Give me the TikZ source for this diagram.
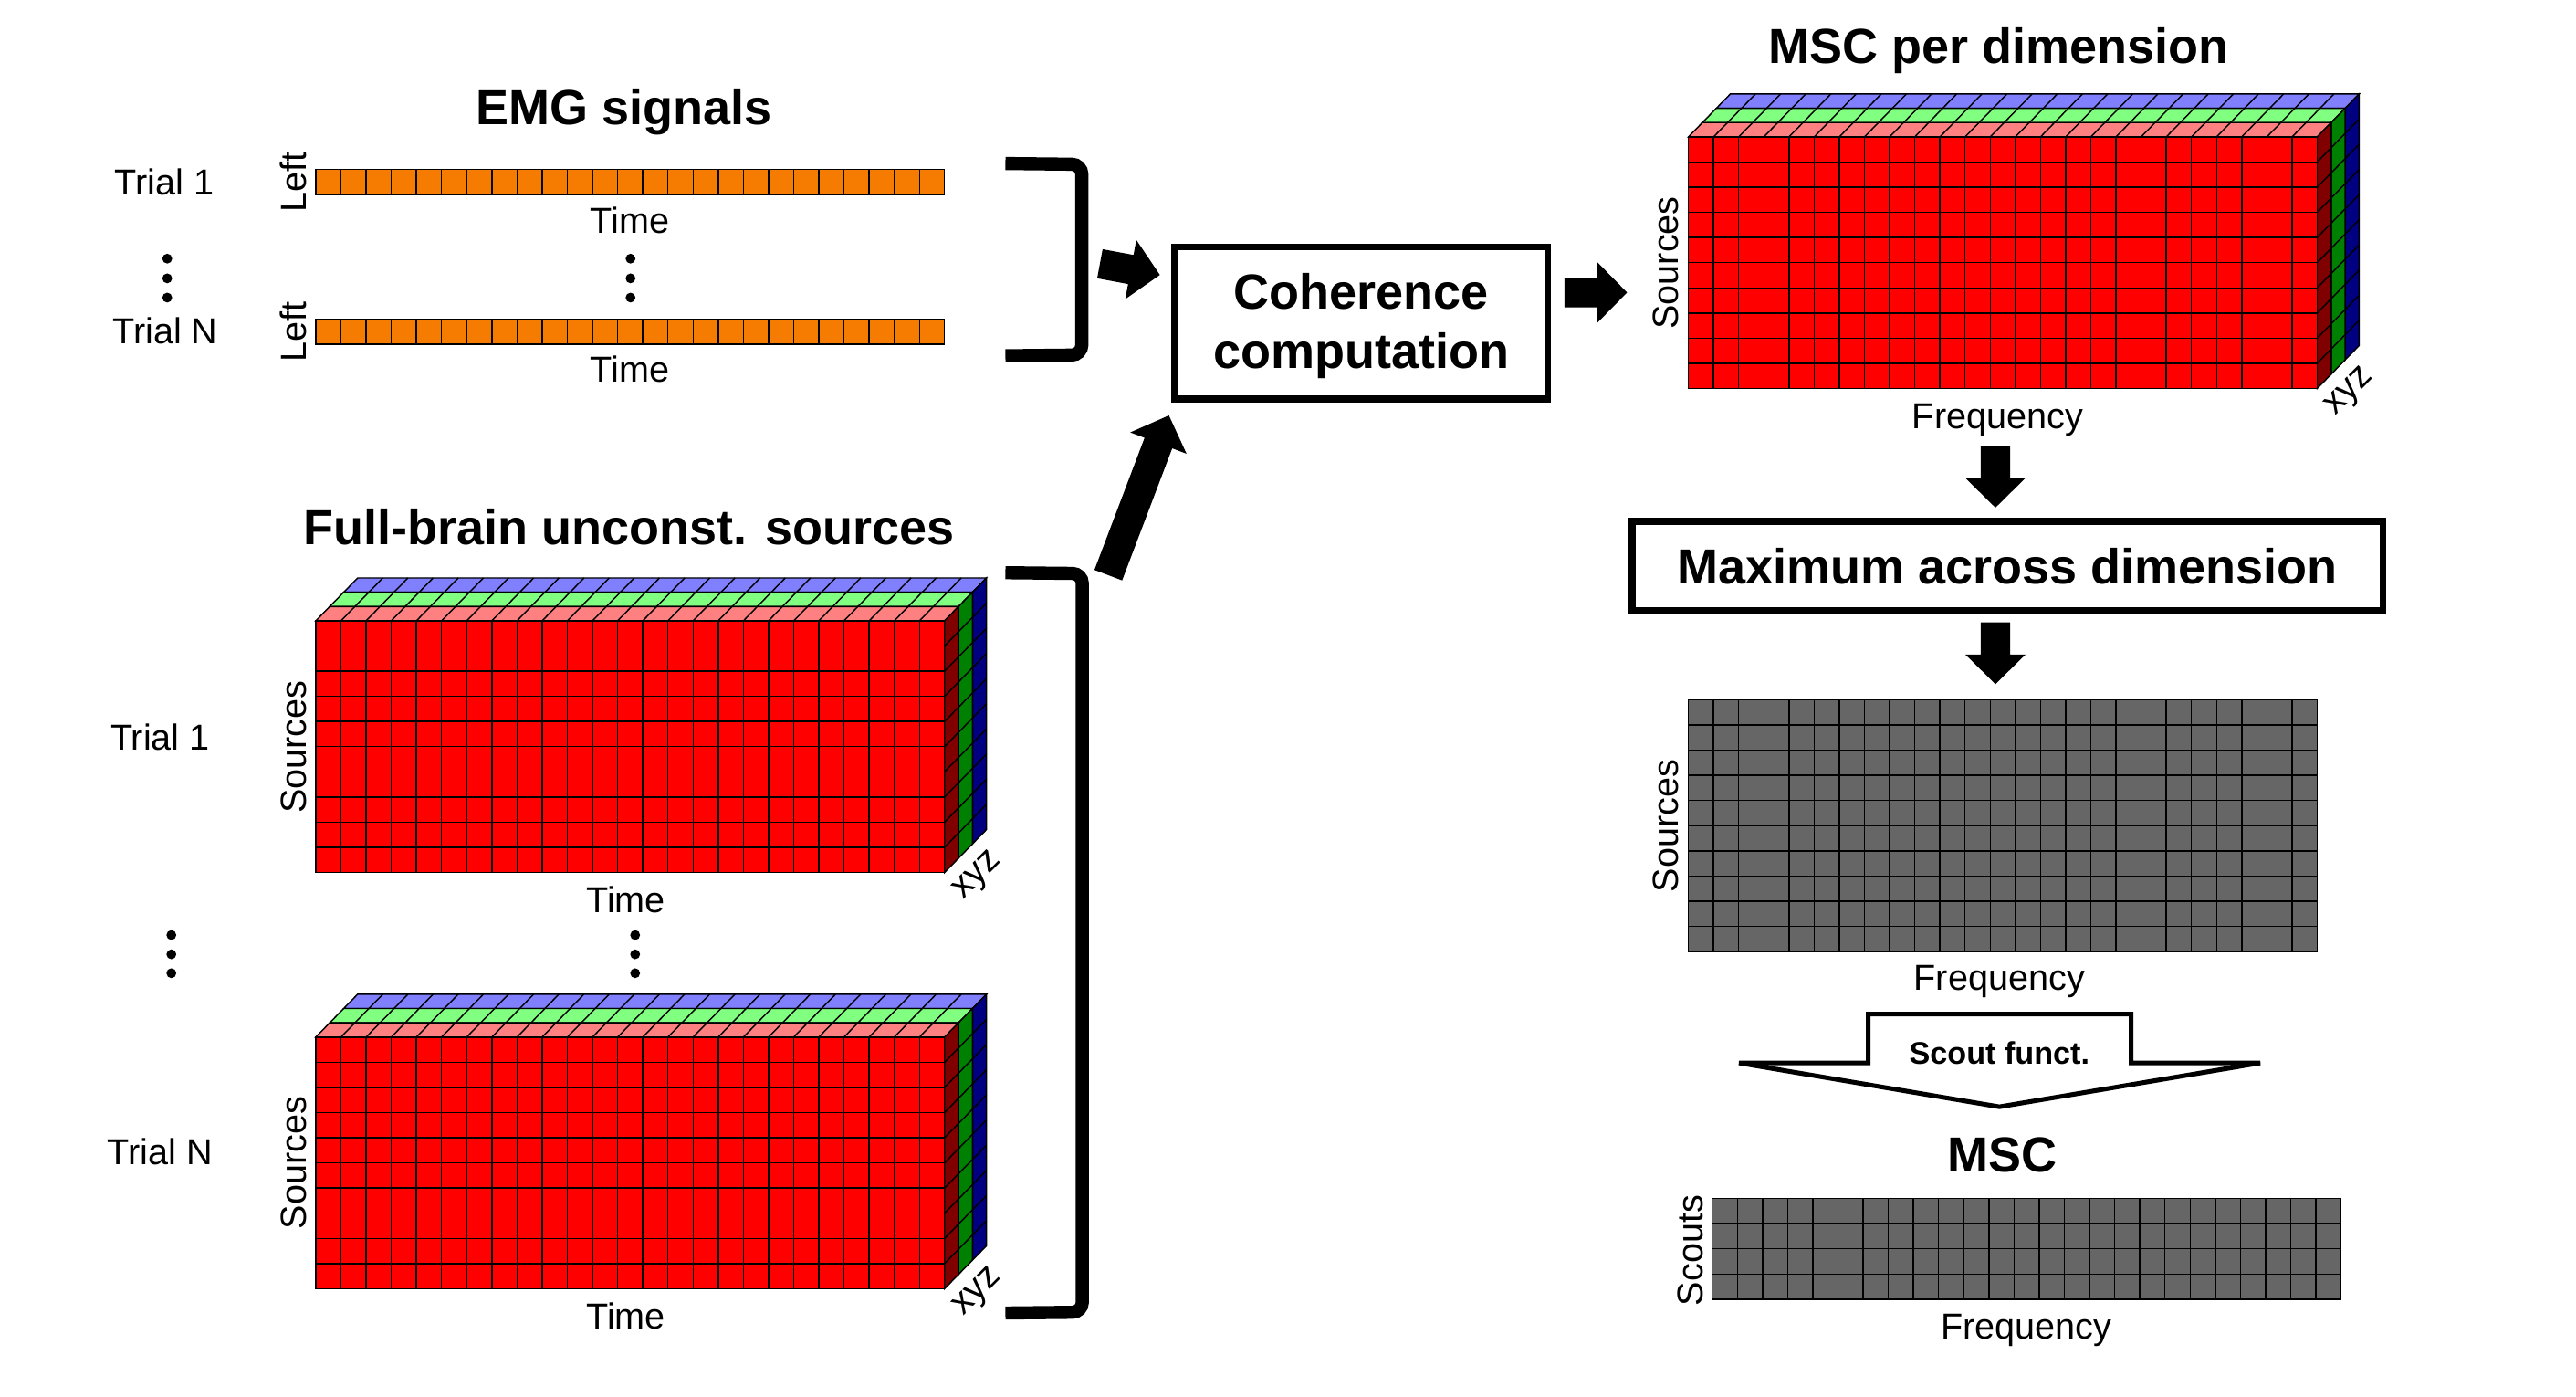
\documentclass[tikz,border=0pt]{standalone}
\usepackage{fontspec}
\setmainfont{Liberation Sans}
\usetikzlibrary{calc}
\definecolor{redtop}{HTML}{FF8080}
\definecolor{redside}{HTML}{800000}
\definecolor{greentop}{HTML}{80FF80}
\definecolor{greenside}{HTML}{008000}
\definecolor{bluetop}{HTML}{8080FF}
\definecolor{blueside}{HTML}{000080}
\definecolor{emgorange}{HTML}{F57C00}
\definecolor{gridgray}{HTML}{666666}
\tikzset{
  lbl/.style={font=\fontsize{22}{26}\selectfont, inner sep=0pt},
  ttl/.style={font=\fontsize{30}{36}\selectfont\bfseries, inner sep=0pt},
  gridline/.style={draw=black, line width=0.8pt},
  procbox/.style={draw, line width=4.3pt, font=\fontsize{30}{36}\selectfont\bfseries, align=center, inner sep=0pt},
  bracketline/.style={line width=8pt, rounded corners=6pt},
  dotmark/.style={fill=black},
}
\def\csz{15.31}
\def\dpx{8.5}
\def\dpy{8.7}
% flat grid of cells: x y ncols nrows fill
\newcommand\cellgrid[5]{%
  \filldraw[fill=#5,gridline] (#1,#2) rectangle ++(#3*\csz,#4*\csz);
  \pgfmathtruncatemacro\ncm{#3-1}%
  \pgfmathtruncatemacro\nrm{#4-1}%
  \foreach \i in {1,...,\ncm}{\draw[gridline] (#1+\i*\csz,#2) -- ++(0,#4*\csz);}
  \ifnum#4>1
    \foreach \j in {1,...,\nrm}{\draw[gridline] (#1,#2+\j*\csz) -- ++(#3*\csz,0);}
  \fi
}
% 3-layer block (front top-left corner)
\newcommand\cubeblock[2]{%
  \begin{scope}[shift={(#1,#2)}]
    \foreach \k/\tcol/\scol in {2/bluetop/blueside,1/greentop/greenside,0/redtop/redside}{%
      \pgfmathsetmacro\ax{\k*\dpx}%
      \pgfmathsetmacro\ay{-\k*\dpy}%
      \pgfmathsetmacro\bx{(\k+1)*\dpx}%
      \pgfmathsetmacro\by{-(\k+1)*\dpy}%
      \filldraw[fill=\tcol,gridline] (\ax,\ay) -- (\ax+25*\csz,\ay) -- (\bx+25*\csz,\by) -- (\bx,\by) -- cycle;
      \foreach \i in {1,...,24}{\draw[gridline] (\ax+\i*\csz,\ay) -- (\bx+\i*\csz,\by);}
      \filldraw[fill=\scol,gridline] (\ax+25*\csz,\ay) -- (\ax+25*\csz,\ay+10*\csz) -- (\bx+25*\csz,\by+10*\csz) -- (\bx+25*\csz,\by) -- cycle;
      \foreach \j in {1,...,9}{\draw[gridline] (\ax+25*\csz,\ay+\j*\csz) -- (\bx+25*\csz,\by+\j*\csz);}
    }
    \cellgrid{0}{0}{25}{10}{red}
  \end{scope}}
% solid block arrow from #1 to #2
\newcommand\blockarrow[2]{%
  \coordinate (hb) at ($(#2)!18pt!(#1)$);
  \fill ($(#1)!9pt!90:(#2)$) -- ($(hb)!9pt!90:(#2)$) -- ($(hb)!18.3pt!90:(#2)$) -- (#2)
     -- ($(hb)!18.3pt!-90:(#2)$) -- ($(hb)!9pt!-90:(#2)$) -- ($(#1)!9pt!-90:(#2)$) -- cycle;}
\begin{document}
\begin{tikzpicture}[x=1pt,y=-1pt]
\useasboundingbox (0,0) rectangle (1568,849.6);
\fill[white] (0,0) rectangle (1568,849.6);

% ---------------- EMG signals ----------------
\node[ttl, anchor=base] (emgtitle) at (380,75.6) {EMG signals};
\cellgrid{192.2}{103}{25}{1}{emgorange}
\cellgrid{192.2}{194.2}{25}{1}{emgorange}
\node[lbl, anchor=base] (emgt1) at (100,118.5) {Trial 1};
\node[lbl, anchor=base] (emgtn) at (100.5,209) {Trial N};
\node[lbl, anchor=base, rotate=90] (left1) at (186.2,110.7) {Left};
\node[lbl, anchor=base, rotate=90] (left2) at (186.2,201.8) {Left};
\node[lbl, anchor=base] (emgtime1) at (383.5,141.7) {Time};
\node[lbl, anchor=base] (emgtime2) at (383.5,232.5) {Time};
\foreach \yy in {157.4,169.4,181.1}{
  \fill[dotmark] (101.8,\yy) circle (3);
  \fill[dotmark] (383.8,\yy) circle (3);
}
\draw[bracketline] (612,99.5) -- (658.5,100) -- (658.5,216) -- (612,216.5);

% ---------------- Full-brain sources ----------------
\node[ttl, anchor=base] (srctitle) at (383,331.7) {Full-brain unconst. sources};
\cubeblock{192.2}{377.8}
\cubeblock{192.2}{631.1}
\node[lbl, anchor=base] (srct1) at (97.5,456.5) {Trial 1};
\node[lbl, anchor=base] (srctn) at (97.3,708.9) {Trial N};
\node[lbl, anchor=base, rotate=90] (src1) at (186.2,454.5) {Sources};
\node[lbl, anchor=base, rotate=90] (src2) at (186.2,707.7) {Sources};
\node[lbl, anchor=base] (time1) at (381,555.5) {Time};
\node[lbl, anchor=base] (time2) at (381,808.8) {Time};
\node[lbl, rotate=45] (xyz1) at (595.4,533.3) {xyz};
\node[lbl, rotate=45] (xyz2) at (595.4,786.6) {xyz};
\foreach \yy in {569,580.7,592.2}{
  \fill[dotmark] (104.3,\yy) circle (3);
  \fill[dotmark] (386.6,\yy) circle (3);
}
\draw[bracketline] (612,348.5) -- (658.8,349) -- (658.8,798.5) -- (612,799);

% ---------------- Coherence ----------------
\node[procbox, minimum width=227.2pt, minimum height=92.3pt] (coh) at (828.5,196.5) {};
\node[font=\fontsize{30}{36}\selectfont\bfseries, align=center, inner sep=0pt, anchor=north] (cohtext) at ($(coh.center)+(0,-30.5)$) {Coherence\\computation};
\coordinate (a1s) at (669.5,160.5);
\coordinate (a1e) at (706,167.3);
\coordinate (a3s) at (674.6,350);
\coordinate (a3e) at (711.5,252.8);
\coordinate (a2s) at (952.3,178);
\coordinate (a2e) at (990.4,178);
\blockarrow{a1s}{a1e}
\blockarrow{a3s}{a3e}
\blockarrow{a2s}{a2e}

% ---------------- MSC per dimension ----------------
\node[ttl, anchor=base] (msctitle) at (1216.5,38.7) {MSC per dimension};
\cubeblock{1027.7}{83.3}
\node[lbl, anchor=base, rotate=90] (src3) at (1021.7,160) {Sources};
\node[lbl, anchor=base] (freq1) at (1216,261.1) {Frequency};
\node[lbl, rotate=45] (xyz3) at (1430.9,238.9) {xyz};

\coordinate (a4s) at (1214.6,271.3);
\coordinate (a4e) at (1214.6,308.9);
\blockarrow{a4s}{a4e}
\node[procbox, minimum width=456.9pt, minimum height=54.1pt] (maxbox) at (1222,344.5) {Maximum across dimension};
\coordinate (a5s) at (1214.6,378.7);
\coordinate (a5e) at (1214.6,416.3);
\blockarrow{a5s}{a5e}

% ---------------- max grid ----------------
\cellgrid{1027.7}{425.9}{25}{10}{gridgray}
\node[lbl, anchor=base, rotate=90] (src4) at (1021.7,502.6) {Sources};
\node[lbl, anchor=base] (freq2) at (1217,602.8) {Frequency};

% ---------------- Scout function arrow ----------------
\draw[line width=2.8pt, fill=white] (1137.2,646.8) -- (1137.2,617.1) -- (1297.2,617.1) -- (1297.2,646.8)
   -- (1375.8,646.8) -- (1217,673.5) -- (1058.5,646.8) -- cycle;
\node[font=\fontsize{19}{22}\selectfont\bfseries, anchor=base, inner sep=0pt] (scoutlbl) at (1217,647.8) {Scout funct.};

% ---------------- MSC ----------------
\node[ttl, anchor=base] (msc) at (1218.5,713.3) {MSC};
\cellgrid{1042.2}{729.3}{25}{4}{gridgray}
\node[lbl, anchor=base, rotate=90] (scouts) at (1036.7,761) {Scouts};
\node[lbl, anchor=base] (freq3) at (1233.5,814.8) {Frequency};
\end{tikzpicture}
\end{document}
